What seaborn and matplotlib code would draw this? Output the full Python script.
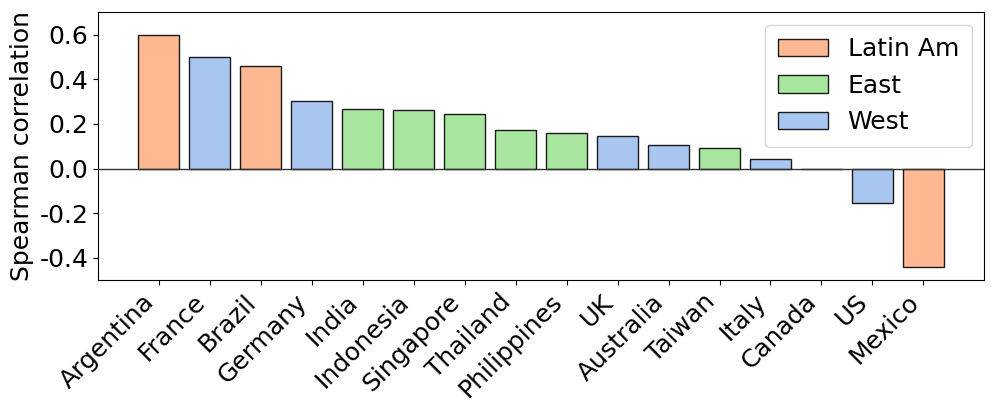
import pandas as pd
import numpy as np
import matplotlib
matplotlib.use("Agg")
import matplotlib.pyplot as plt
import seaborn as sns

countries = ["Argentina", "France", "Brazil", "Germany", "India", "Indonesia",
             "Singapore", "Thailand", "Philippines", "UK", "Australia", "Taiwan",
             "Italy", "Canada", "US", "Mexico"]
spearman = [0.60, 0.50, 0.46, 0.305, 0.266, 0.263, 0.246, 0.173, 0.158,
            0.146, 0.106, 0.094, 0.043, -0.003, -0.156, -0.44]
regions = ["Latin Am", "West", "Latin Am", "West", "East", "East", "East", "East",
           "East", "West", "West", "East", "West", "West", "West", "Latin Am"]
region_order = ["Latin Am", "East", "West"]

df = pd.DataFrame({"country": countries, "corr": spearman, "region": regions})

colors = {"Latin Am": "#ffb891", "East": "#a8e6a0", "West": "#a8c6f0"}

fig = plt.figure(figsize=(9.97, 4.15), dpi=100)
ax = fig.add_axes([0.0985, 0.325, 0.8885, 0.645])

sns.barplot(data=df, x="country", y="corr", hue="region", hue_order=region_order,
            palette=colors, dodge=False, saturation=1, width=0.8,
            edgecolor="#1a1a1a", linewidth=1, ax=ax)
ax.axhline(0, color="#333333", linewidth=1)

ax.set_xlim(-1.19, 16.19)
ax.set_ylim(-0.5, 0.7)
ax.set_yticks([-0.4, -0.2, 0.0, 0.2, 0.4, 0.6])
ax.set_yticklabels(["-0.4", "-0.2", "0.0", "0.2", "0.4", "0.6"])
ax.tick_params(axis="both", labelsize=18)
plt.setp(ax.get_xticklabels(), rotation=45, ha="right", rotation_mode="default")
ax.set_xlabel("")
ax.set_ylabel("Spearman correlation", fontsize=18)

ax.legend(loc="upper right", fontsize=18, title=None, borderpad=0.5, labelspacing=0.5)

fig.savefig("out.png", dpi=100)
